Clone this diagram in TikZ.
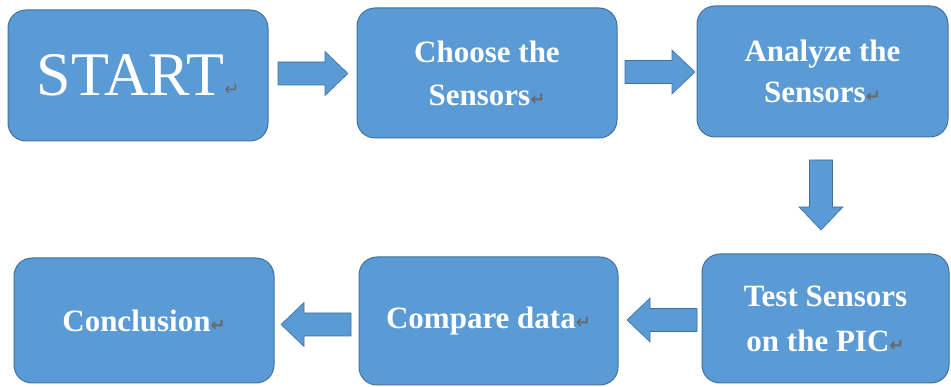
\documentclass[tikz,border=0pt]{standalone}
\usepackage{fontspec}
\setmainfont{Liberation Serif}
\newfontfamily\markfont{DejaVu Sans}
\usetikzlibrary{calc}

\definecolor{boxblue}{RGB}{91,155,213}
\definecolor{boxedge}{RGB}{65,113,156}
\definecolor{markgray}{RGB}{105,105,105}

% paragraph mark shown after each label
\newcommand\pmark{{\markfont\fontsize{18}{18}\selectfont\textcolor{markgray}{↵}}}

% thick block arrow: #1 = tail coordinate, #2 = direction in degrees
\newcommand\blockarrow[2]{%
  \begin{scope}[shift={(#1)}, rotate=#2]
    \path[flowarrow] (0,-11.5) -- (47,-11.5) -- (47,-22) -- (70,0)
      -- (47,22) -- (47,11.5) -- (0,11.5) -- cycle;
  \end{scope}}

\tikzset{
  stepbox/.style={draw=boxedge, fill=boxblue, line width=1pt,
    rounded corners=18pt, text=white, align=center,
    inner sep=0pt, outer sep=0pt,
    font=\bfseries\fontsize{31}{43}\selectfont},
  flowarrow/.style={draw=boxedge, fill=boxblue, line width=0.6pt,
    line join=miter}
}

\begin{document}
\begin{tikzpicture}[x=1pt, y=-1pt]
  \useasboundingbox (0,0) rectangle (951,387);

  % process steps
  \node[stepbox, minimum width=260pt, minimum height=131pt,
        font=\fontsize{62}{62}\selectfont] (start) at (138,75.5) {START\pmark};
  \node[stepbox, minimum width=260pt, minimum height=130pt] (choose) at (487,73)
    {Choose the\\ Sensors\pmark};
  \node[stepbox, minimum width=251pt, minimum height=131pt,
        font=\bfseries\fontsize{31}{41}\selectfont] (analyze) at (822.5,71.5)
    {Analyze the\\ Sensors\pmark};
  \node[stepbox, minimum width=247pt, minimum height=129pt,
        font=\bfseries\fontsize{31}{45}\selectfont] (test) at (825.5,318.5)
    {Test Sensors\\ on the PIC\pmark};
  \node[stepbox, minimum width=259pt, minimum height=128pt] (compare) at (488.5,321)
    {Compare data\pmark};
  \node[stepbox, minimum width=260pt, minimum height=125pt] (conclusion) at (144,320.5)
    {Conclusion\pmark};

  % arrow tails, placed next to the box they leave
  \coordinate (a1) at ($(start.east)+(10,-2)$);
  \coordinate (a2) at ($(choose.east)+(8,-1)$);
  \coordinate (a3) at ($(analyze.south)+(-1.5,23)$);
  \coordinate (a4) at ($(test.west)+(-5,1.5)$);
  \coordinate (a5) at ($(compare.west)+(-8,3.5)$);

  \blockarrow{a1}{0}
  \blockarrow{a2}{0}
  \blockarrow{a3}{-90}
  \blockarrow{a4}{180}
  \blockarrow{a5}{180}
\end{tikzpicture}
\end{document}
